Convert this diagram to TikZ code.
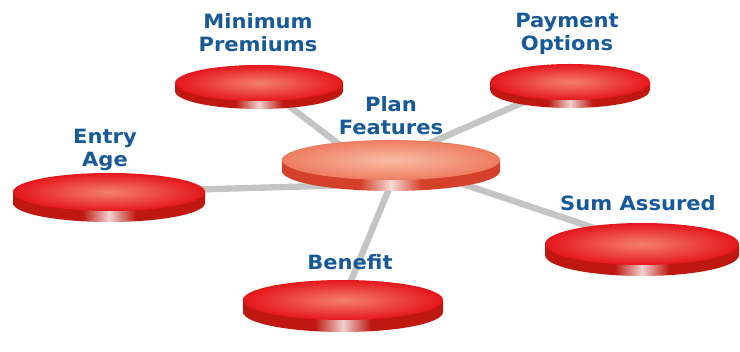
\documentclass[tikz,border=0pt]{standalone}
\usepackage{fontspec}
\setmainfont{DejaVu Sans}[FakeStretch=1.07]
\usepackage{xcolor}
\usepackage{tikz}
\usetikzlibrary{calc}
\usetikzlibrary{shapes.geometric}
\definecolor{lblblue}{HTML}{18599A}
\definecolor{facered}{HTML}{E5161C}
\definecolor{facehi}{HTML}{F4806B}
\definecolor{rimred}{HTML}{BE1810}
\definecolor{facesalmon}{HTML}{EE7C60}
\definecolor{salmonhi}{HTML}{F9BDA6}
\definecolor{rimsalmon}{HTML}{D5402A}
\definecolor{spokegray}{HTML}{C4C4C4}
\pgfdeclarehorizontalshading{redrim}{100bp}{color(0bp)=(rimred); color(43bp)=(rimred); color(50bp)=(white!80!rimred); color(57bp)=(rimred); color(100bp)=(rimred)}
\pgfdeclarehorizontalshading{salmonrim}{100bp}{color(0bp)=(rimsalmon); color(43bp)=(rimsalmon); color(50bp)=(white!80!rimsalmon); color(57bp)=(rimsalmon); color(100bp)=(rimsalmon)}
\tikzset{>=latex}
\tikzstyle{face} = [inner color=facehi, outer color=facered]
\tikzstyle{pfface} = [inner color=salmonhi, outer color=facesalmon]
\tikzstyle{rim} = [shading=redrim]
\tikzstyle{pfrim} = [shading=salmonrim]
\tikzstyle{spoke} = [-, line width=4.5pt, draw=spokegray]
\tikzstyle{lbl} = [draw=none, inner sep=0, align=center, text=lblblue, font=\bfseries\fontsize{14}{16.5}\selectfont]

\begin{document}
\begin{tikzpicture}[x=0.025cm, y=-0.025cm]
\useasboundingbox (0,0) rectangle (740,352);
\coordinate (pf) at (391,160);
\coordinate (hub) at (391,184);
\coordinate (mp) at (259,83);
\coordinate (po) at (570,82);
\coordinate (ea) at (109,192);
\coordinate (sa) at (642,244);
\coordinate (bn) at (343,300);
% spokes behind the disks
\draw [spoke] (hub) to (mp);
\draw [spoke] (pf) to (po);
\draw [spoke] (hub) to (ea);
\draw [spoke] (pf) to (sa);
\draw [spoke] (hub) to (bn);
% disks
\path [rim] (mp) ++(-84,0) -- ++(0,8) arc [start angle=180, end angle=0, x radius=84, y radius=18] -- ++(0,-8) -- cycle;
\path [face] (mp) ellipse (84 and 18);
\path [rim] (po) ++(-80,0) -- ++(0,8) arc [start angle=180, end angle=0, x radius=80, y radius=18] -- ++(0,-8) -- cycle;
\path [face] (po) ellipse (80 and 18);
\path [rim] (ea) ++(-96,0) -- ++(0,11) arc [start angle=180, end angle=0, x radius=96, y radius=19] -- ++(0,-11) -- cycle;
\path [face] (ea) ellipse (96 and 19);
\path [rim] (sa) ++(-97,0) -- ++(0,11) arc [start angle=180, end angle=0, x radius=97, y radius=21] -- ++(0,-11) -- cycle;
\path [face] (sa) ellipse (97 and 21);
\path [rim] (bn) ++(-100,0) -- ++(0,12) arc [start angle=180, end angle=0, x radius=100, y radius=20] -- ++(0,-12) -- cycle;
\path [face] (bn) ellipse (100 and 20);
\path [pfrim] (pf) ++(-109,0) -- ++(0,11) arc [start angle=180, end angle=0, x radius=109, y radius=20] -- ++(0,-11) -- cycle;
\path [pfface] (pf) ellipse (109 and 20);
% labels
\node [lbl] (mptxt) at (258,33) {Minimum\\Premiums};
\node [lbl] (potxt) at (567,34) {Payment\\Options};
\node [lbl] (pftxt) at (391,116) {Plan\\Features};
\node [lbl] (eatxt) at (105,150) {Entry\\Age};
\node [lbl] (satxt) at (638,203) {Sum Assured};
\node [lbl] (bntxt) at (350,262) {Benefit};
\end{tikzpicture}
\end{document}
